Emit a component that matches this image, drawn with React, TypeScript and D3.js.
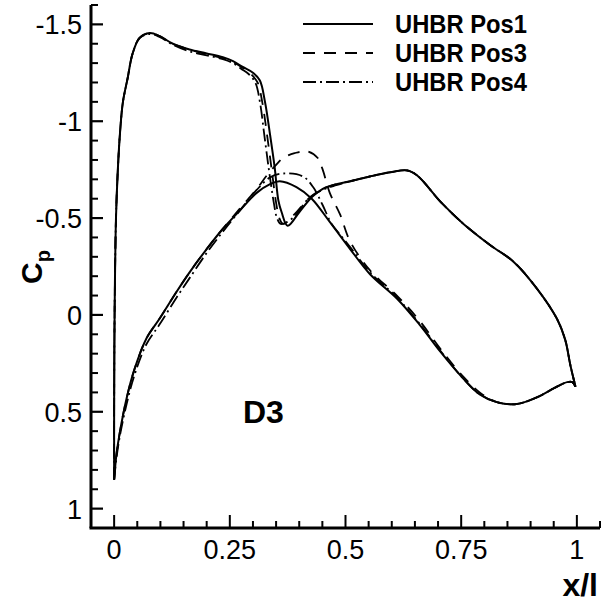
import React from "react";
import * as d3 from "d3";

// ---- data: [x/l, Cp] pairs ----
const pos1Suction: [number, number][] = [
  [0.0, 0.85], [0.0, 0.5], [0.001, 0.0], [0.004, -0.5], [0.008, -0.75], [0.013, -0.95],
  [0.019, -1.1], [0.029, -1.22], [0.04, -1.35], [0.055, -1.43], [0.077, -1.455], [0.098, -1.44],
  [0.127, -1.4], [0.163, -1.37], [0.2, -1.35], [0.235, -1.33], [0.257, -1.31], [0.278, -1.28],
  [0.3, -1.25], [0.315, -1.21], [0.326, -1.1], [0.337, -0.93], [0.347, -0.76], [0.355, -0.59],
  [0.362, -0.53], [0.375, -0.46], [0.4, -0.53], [0.428, -0.61], [0.45, -0.65], [0.48, -0.675],
  [0.51, -0.69], [0.553, -0.715], [0.596, -0.736], [0.633, -0.746], [0.655, -0.72], [0.705, -0.585],
  [0.755, -0.47], [0.813, -0.36], [0.863, -0.275], [0.914, -0.135], [0.957, 0.02], [0.975, 0.13],
  [0.986, 0.26], [0.997, 0.37],
];
const pos1Pressure: [number, number][] = [
  [0.0, 0.85], [0.005, 0.72], [0.012, 0.61], [0.027, 0.43], [0.044, 0.28], [0.07, 0.12],
  [0.098, 0.02], [0.135, -0.12], [0.163, -0.22], [0.2, -0.34], [0.235, -0.445], [0.272, -0.54],
  [0.308, -0.63], [0.337, -0.675], [0.358, -0.69], [0.394, -0.66], [0.427, -0.6], [0.466, -0.48],
  [0.51, -0.34], [0.553, -0.21], [0.611, -0.085], [0.66, 0.05], [0.705, 0.19], [0.755, 0.33],
  [0.79, 0.41], [0.827, 0.45], [0.87, 0.46], [0.914, 0.425], [0.957, 0.37], [0.979, 0.347],
  [0.99, 0.347], [0.997, 0.37],
];
const pos3Suction: [number, number][] = [
  [0.0, 0.85], [0.0, 0.5], [0.001, 0.0], [0.004, -0.5], [0.008, -0.75], [0.013, -0.95],
  [0.019, -1.1], [0.029, -1.22], [0.04, -1.35], [0.055, -1.43], [0.077, -1.455], [0.098, -1.44],
  [0.127, -1.4], [0.163, -1.37], [0.2, -1.345], [0.235, -1.325], [0.257, -1.305], [0.278, -1.275],
  [0.295, -1.245], [0.31, -1.2], [0.32, -1.1], [0.331, -0.92], [0.341, -0.74], [0.35, -0.58],
  [0.357, -0.5], [0.365, -0.47], [0.39, -0.52], [0.42, -0.6], [0.45, -0.65], [0.48, -0.675],
  [0.51, -0.69], [0.553, -0.715], [0.596, -0.736], [0.633, -0.746], [0.655, -0.72], [0.705, -0.585],
  [0.755, -0.47], [0.813, -0.36], [0.863, -0.275], [0.914, -0.135], [0.957, 0.02], [0.975, 0.13],
  [0.986, 0.26], [0.997, 0.37],
];
const pos3Pressure: [number, number][] = [
  [0.0, 0.85], [0.005, 0.72], [0.012, 0.61], [0.027, 0.43], [0.044, 0.28], [0.07, 0.12],
  [0.098, 0.02], [0.135, -0.12], [0.163, -0.22], [0.2, -0.34], [0.235, -0.445], [0.272, -0.55],
  [0.308, -0.65], [0.33, -0.72], [0.352, -0.78], [0.365, -0.81], [0.39, -0.835], [0.417, -0.845],
  [0.44, -0.81], [0.45, -0.755], [0.466, -0.63], [0.488, -0.52], [0.51, -0.38], [0.553, -0.23],
  [0.611, -0.1], [0.66, 0.03], [0.705, 0.175], [0.755, 0.32], [0.79, 0.4], [0.827, 0.45],
  [0.87, 0.46], [0.914, 0.425], [0.957, 0.37], [0.979, 0.347], [0.99, 0.347], [0.997, 0.37],
];
const pos4Suction: [number, number][] = [
  [0.0, 0.85], [0.0, 0.5], [0.001, 0.0], [0.004, -0.5], [0.008, -0.75], [0.013, -0.95],
  [0.019, -1.1], [0.029, -1.22], [0.04, -1.35], [0.055, -1.43], [0.077, -1.45], [0.098, -1.435],
  [0.127, -1.395], [0.163, -1.36], [0.2, -1.34], [0.235, -1.32], [0.257, -1.3], [0.275, -1.27],
  [0.29, -1.245], [0.305, -1.2], [0.315, -1.1], [0.325, -0.92], [0.335, -0.74], [0.345, -0.58],
  [0.352, -0.5], [0.36, -0.47], [0.386, -0.5], [0.42, -0.6], [0.45, -0.645], [0.48, -0.67],
  [0.51, -0.69], [0.553, -0.715], [0.596, -0.736], [0.633, -0.746], [0.655, -0.72], [0.705, -0.585],
  [0.755, -0.47], [0.813, -0.36], [0.863, -0.275], [0.914, -0.135], [0.957, 0.02], [0.975, 0.13],
  [0.986, 0.26], [0.997, 0.37],
];
const pos4Pressure: [number, number][] = [
  [0.0, 0.85], [0.005, 0.74], [0.012, 0.63], [0.027, 0.46], [0.044, 0.31], [0.07, 0.15],
  [0.098, 0.05], [0.135, -0.09], [0.163, -0.19], [0.2, -0.32], [0.235, -0.43], [0.272, -0.54],
  [0.308, -0.645], [0.337, -0.71], [0.365, -0.73], [0.408, -0.715], [0.43, -0.66], [0.45, -0.57],
  [0.47, -0.47], [0.49, -0.41], [0.51, -0.35], [0.553, -0.22], [0.611, -0.09], [0.66, 0.045],
  [0.705, 0.185], [0.755, 0.33], [0.79, 0.41], [0.827, 0.45], [0.87, 0.46], [0.914, 0.425],
  [0.957, 0.37], [0.979, 0.347], [0.99, 0.347], [0.997, 0.37],
];

const seriesNames = ["UHBR Pos1", "UHBR Pos3", "UHBR Pos4"];
const xTickValues = [0, 0.25, 0.5, 0.75, 1];
const xTickLabels = ["0", "0.25", "0.5", "0.75", "1"];
const yTickValues = [-1.5, -1, -0.5, 0, 0.5, 1];
const yTickLabels = ["-1.5", "-1", "-0.5", "0", "0.5", "1"];

const W = 608;
const H = 603;

export default function App() {
  const x = d3.scaleLinear().domain([-0.05, 1.05]).range([91, 600]);
  const y = d3.scaleLinear().domain([-1.6, 1.1]).range([5, 528]);
  const line = d3
    .line<[number, number]>()
    .x((d) => x(d[0]))
    .y((d) => y(d[1]))
    .curve(d3.curveCatmullRom.alpha(0.5));

  const xMinor = d3.range(-0.05, 1.0501, 0.05).filter((v) => !xTickValues.some((t) => Math.abs(t - v) < 1e-6));
  const yMinor = d3.range(-1.6, 1.1001, 0.1).filter((v) => !yTickValues.some((t) => Math.abs(t - v) < 1e-6));

  const dashes = ["", "12 9", "13 4 2 4"];
  const widths = [2, 1.8, 1.8];
  const curves = [
    [pos1Suction, pos1Pressure],
    [pos3Suction, pos3Pressure],
    [pos4Suction, pos4Pressure],
  ];
  const legendY = [24, 53, 82];
  const font = "'Liberation Sans', Arial, Helvetica, sans-serif";

  return (
    <svg width={W} height={H} style={{ position: "absolute", left: 0, top: 0, background: "#fff" }}>
      <g fill="none" stroke="#000" strokeLinejoin="round" strokeLinecap="butt">
        {curves.map((pair, i) =>
          pair.map((data, j) => (
            <path key={`${i}-${j}`} d={line(data) || ""} strokeWidth={widths[i]} strokeDasharray={dashes[i] || undefined} />
          ))
        )}
      </g>
      {/* axes */}
      <g stroke="#000">
        <line x1={x(-0.05)} x2={x(-0.05)} y1={y(-1.6)} y2={y(1.1)} strokeWidth={3} />
        <line x1={x(-0.05) - 1.5} x2={x(1.05)} y1={y(1.1)} y2={y(1.1)} strokeWidth={3} />
        {xTickValues.map((v) => (
          <line key={`xt${v}`} x1={x(v)} x2={x(v)} y1={y(1.1)} y2={y(1.1) - 13} strokeWidth={2} />
        ))}
        {xMinor.map((v) => (
          <line key={`xm${v}`} x1={x(v)} x2={x(v)} y1={y(1.1)} y2={y(1.1) - 7} strokeWidth={2} />
        ))}
        {yTickValues.map((v) => (
          <line key={`yt${v}`} x1={x(-0.05)} x2={x(-0.05) + 12} y1={y(v)} y2={y(v)} strokeWidth={2.2} />
        ))}
        {yMinor.map((v) => (
          <line key={`ym${v}`} x1={x(-0.05)} x2={x(-0.05) + 7} y1={y(v)} y2={y(v)} strokeWidth={2} />
        ))}
      </g>
      <g fontFamily={font} fontSize={27} fill="#000">
        {xTickValues.map((v, i) => (
          <text key={`xl${v}`} x={x(v)} y={559} textAnchor="middle">
            {xTickLabels[i]}
          </text>
        ))}
        {yTickValues.map((v, i) => (
          <text key={`yl${v}`} x={82} y={y(v) + 10} textAnchor="end">
            {yTickLabels[i]}
          </text>
        ))}
      </g>
      {/* axis titles */}
      <text x={598} y={596} textAnchor="end" fontFamily={font} fontWeight="bold" fontSize={32}>
        x/l
      </text>
      <text transform="translate(42,284) rotate(-90)" fontFamily={font} fontWeight="bold" fontSize={30}>
        C
        <tspan fontSize={20} dy={8}>
          p
        </tspan>
      </text>
      <text x={243} y={423} fontFamily={font} fontWeight="bold" fontSize={32}>
        D3
      </text>
      {/* legend */}
      <g>
        {seriesNames.map((n, i) => (
          <g key={n}>
            <line x1={303} x2={373} y1={legendY[i]} y2={legendY[i]} stroke="#000" strokeWidth={widths[i]} strokeDasharray={dashes[i] || undefined} />
            <text
              x={395}
              y={legendY[i] + 9}
              fontFamily={font}
              fontWeight="bold"
              fontSize={25}
              textLength={132}
              lengthAdjust="spacingAndGlyphs"
            >
              {n}
            </text>
          </g>
        ))}
      </g>
    </svg>
  );
}
